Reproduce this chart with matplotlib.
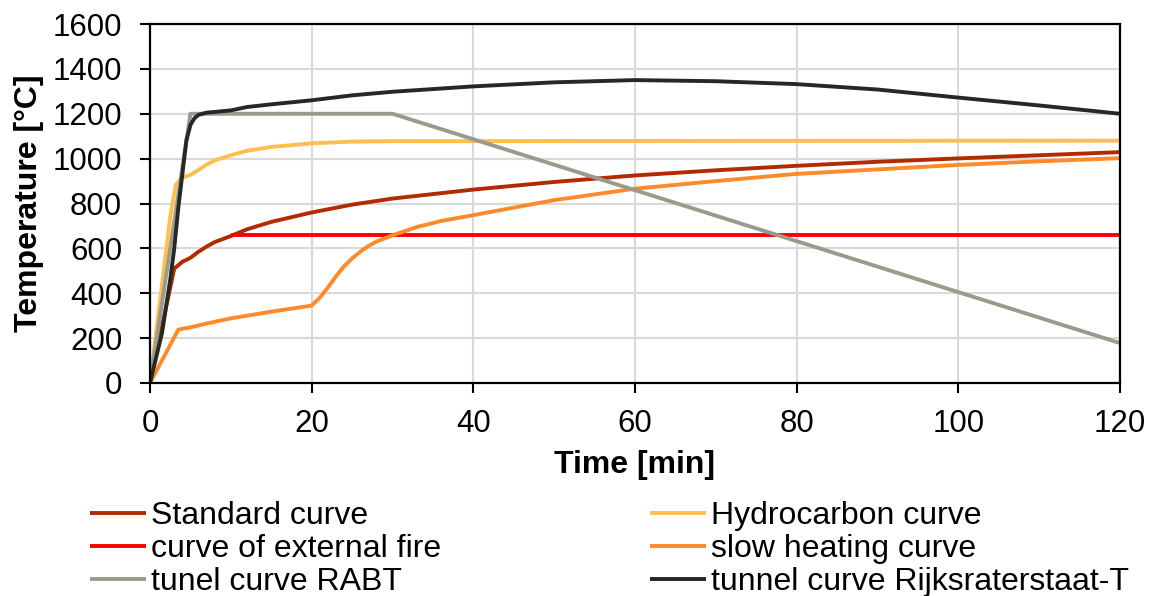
import matplotlib
matplotlib.use("Agg")
import matplotlib.pyplot as plt

plt.rcParams['font.family'] = ['Liberation Sans', 'DejaVu Sans']

# Fire curves: time [min] and temperature [°C]
standard_t = [0, 3, 4, 5, 6, 7, 8, 10, 12, 15, 20, 25, 30, 40, 50, 60, 70, 80, 90, 100, 110, 120]
standard_T = [0, 510, 540, 558, 585, 608, 628, 655, 685, 718, 760, 795, 822, 862, 896, 925, 948, 968, 986, 1001, 1015, 1029]

hydro_t = [0, 2.5, 3.2, 4, 5, 6, 7, 8, 10, 12, 15, 20, 25, 30, 120]
hydro_T = [0, 740, 885, 915, 928, 950, 973, 992, 1015, 1035, 1052, 1068, 1076, 1078, 1080]

external_t = [10, 120]
external_T = [660, 660]

slow_t = [0, 3.5, 5, 7, 10, 15, 20, 21, 22, 23, 24, 25, 26, 27, 28, 30, 33, 36, 40, 50, 60, 70, 80, 90, 100, 110, 120]
slow_T = [0, 238, 248, 265, 288, 318, 345, 380, 425, 475, 520, 555, 585, 610, 630, 658, 695, 722, 748, 815, 866, 900, 932, 952, 972, 988, 1002]

rabt_t = [0, 5, 30, 120]
rabt_T = [0, 1200, 1200, 178]

rws_t = [0, 1.5, 2.5, 3, 3.5, 4, 4.5, 5, 5.5, 6, 7, 8, 10, 12, 15, 20, 25, 30, 40, 50, 60, 70, 80, 90, 100, 110, 120]
rws_T = [0, 225, 460, 600, 780, 930, 1080, 1150, 1180, 1195, 1205, 1208, 1215, 1230, 1242, 1260, 1282, 1298, 1322, 1340, 1350, 1345, 1332, 1308, 1272, 1237, 1200]

x_ticks = [0, 20, 40, 60, 80, 100, 120]
y_ticks = [0, 200, 400, 600, 800, 1000, 1200, 1400, 1600]

fig = plt.figure(figsize=(11.54, 5.96), dpi=100)
ax = fig.add_axes([150 / 1154, 1 - 383 / 596, (1120 - 150) / 1154, (383 - 24) / 596])

lw = 2.8
kw = dict(lw=lw, solid_joinstyle='round', solid_capstyle='butt')
ax.plot(standard_t, standard_T, color='#B22A00', label='Standard curve', **kw)
ax.plot(hydro_t, hydro_T, color='#FFBF4D', label='Hydrocarbon curve', **kw)
ax.plot(external_t, external_T, color='#FF0000', label='curve of external fire', **kw)
ax.plot(slow_t, slow_T, color='#FF8A2A', label='slow heating curve', **kw)
ax.plot(rabt_t, rabt_T, color='#9A9B8D', label='tunel curve RABT', **kw)
ax.plot(rws_t, rws_T, color='#262824', label='tunnel curve Rijksraterstaat-T', **kw)

ax.set_xlim(0, 120)
ax.set_ylim(0, 1600)
ax.set_xticks(x_ticks)
ax.set_yticks(y_ticks)
ax.grid(True, color='#D9D9D9', lw=1.5)
ax.set_axisbelow(True)
for s in ax.spines.values():
    s.set_color('black')
    s.set_linewidth(1.6)
ax.tick_params(axis='both', direction='out', length=7, width=1.5, labelsize=22.5, colors='black')
ax.tick_params(axis='y', pad=13)
ax.tick_params(axis='x', pad=12)

ax.set_xlabel('Time [min]', fontsize=23, fontweight='bold', labelpad=8)
ax.set_ylabel('Temperature [°C]', fontsize=23, fontweight='bold', labelpad=6)

handles, labels = ax.get_legend_handles_labels()
leg_kw = dict(loc='upper left', ncol=1, frameon=False, fontsize=23, handlelength=1.75,
              handletextpad=0.15, labelspacing=0.1, borderaxespad=0, borderpad=0)
leg1 = fig.legend([handles[i] for i in (0, 2, 4)], [labels[i] for i in (0, 2, 4)],
                  bbox_to_anchor=(90 / 1154, 1 - 501 / 596), **leg_kw)
leg2 = fig.legend([handles[i] for i in (1, 3, 5)], [labels[i] for i in (1, 3, 5)],
                  bbox_to_anchor=(650 / 1154, 1 - 501 / 596), **leg_kw)

fig.savefig('out.png', dpi=100)
